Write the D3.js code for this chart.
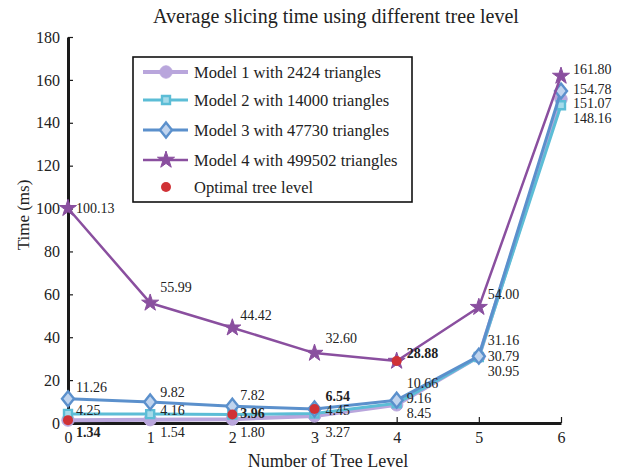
<!DOCTYPE html>
<html>
<head>
<meta charset="utf-8">
<script src="https://d3js.org/d3.v7.min.js"></script>
<style>
body { margin:0; background:#fff; }
text { font-family: "Liberation Serif", "DejaVu Serif", serif; fill:#222; }
.axis path, .axis line { stroke:#1a1a1a; }
</style>
</head>
<body>
<svg id="chart" width="628" height="472"></svg>
<script>

// data
var levels = [0, 1, 2, 3, 4, 5, 6];
var model1 = [1.34, 1.54, 1.80, 3.27, 8.45, 30.95, 151.07];
var model2 = [4.25, 4.16, 3.96, 4.45, 9.16, 30.79, 148.16];
var model3 = [11.26, 9.82, 7.82, 6.54, 10.66, 31.16, 154.78];
var model4 = [100.13, 55.99, 44.42, 32.60, 28.88, 54.00, 161.80];
var seriesNames = ["Model 1 with 2424 triangles", "Model 2 with 14000 triangles",
                   "Model 3 with 47730 triangles", "Model 4 with 499502 triangles"];
var optimalLevel = [0, 2, 3, 4];   // best tree level per model
var yTicks = [0, 20, 40, 60, 80, 100, 120, 140, 160, 180];

// a diamond a bit taller than wide, like the original marker
var diamond = {
  draw: function(ctx, size) {
    var w = Math.sqrt(size / 2.5), h = w * 1.25;
    ctx.moveTo(0, -h); ctx.lineTo(w, 0); ctx.lineTo(0, h); ctx.lineTo(-w, 0); ctx.closePath();
  }
};

// look
var colors = ["#b9a6dc", "#5cbdd6", "#5b90cc", "#8a4f9f"];
var fills  = ["#b9a6dc", "#a6dbea", "#c0d4ee", "#8a4f9f"];
var shapes = [d3.symbolCircle, d3.symbolSquare, diamond, d3.symbolStar];
var sizes  = [120, 64, 90, 90];
var widths = [4, 3, 3, 2.5];
// label nudges (px) from the point, per model per level
var labelDy = [
  [12, 12, 13, 16, 8, 14, 4],
  [-4, -4, -1, -3, -5, -1, 13],
  [-12, -10, -11, -13, -17, -16, -2],
  [0, -16, -13, -15, -8, -13, -7]
];
var labelDx = [8, 10, 8, 11, 10, 9, 12];

var series = [model1, model2, model3, model4];

var svg = d3.select("#chart");
var x = d3.scaleLinear().domain([0, 6]).range([68, 561]);
var y = d3.scaleLinear().domain([0, 180]).range([423, 37]);

svg.append("text")
    .attr("x", 336).attr("y", 23)
    .attr("text-anchor", "middle")
    .attr("font-size", 20)
    .text("Average slicing time using different tree level");

// axes
var xAxis = svg.append("g")
    .attr("class", "axis")
    .attr("transform", "translate(0," + y(0) + ")")
    .call(d3.axisBottom(x).tickValues(levels).tickFormat(d3.format("d"))
          .tickSizeInner(-6).tickSizeOuter(0).tickPadding(9));
xAxis.select(".domain").attr("stroke-width", 3);
xAxis.selectAll(".tick line").attr("stroke-width", 1.2);
xAxis.selectAll("text").attr("font-size", 16).attr("fill", "#222").attr("font-family", "Liberation Serif");

var yAxis = svg.append("g")
    .attr("class", "axis")
    .attr("transform", "translate(" + x(0) + ",0)")
    .call(d3.axisLeft(y).tickValues(yTicks)
          .tickSizeInner(-5).tickSizeOuter(0).tickPadding(8));
yAxis.select(".domain").attr("stroke-width", 3);
yAxis.selectAll(".tick line").attr("stroke-width", 1.2);
yAxis.selectAll("text").attr("font-size", 16).attr("fill", "#222").attr("font-family", "Liberation Serif");

svg.append("text")
    .attr("transform", "translate(29,215) rotate(-90)")
    .attr("text-anchor", "middle")
    .attr("font-size", 17)
    .text("Time (ms)");

svg.append("text")
    .attr("x", 328).attr("y", 467)
    .attr("text-anchor", "middle")
    .attr("font-size", 18)
    .text("Number of Tree Level");

// lines and markers
var line = d3.line()
    .x(function(d, i) { return x(levels[i]); })
    .y(function(d) { return y(d); });

series.forEach(function(vals, s) {
  svg.append("path")
      .datum(vals)
      .attr("fill", "none")
      .attr("stroke", colors[s])
      .attr("stroke-width", widths[s])
      .attr("stroke-linejoin", "round")
      .attr("d", line);

  svg.selectAll(".m" + s)
    .data(vals)
    .enter().append("path")
      .attr("class", "m" + s)
      .attr("transform", function(d, i) { return "translate(" + x(levels[i]) + "," + y(d) + ")"; })
      .attr("d", d3.symbol().type(shapes[s]).size(sizes[s]))
      .attr("fill", fills[s])
      .attr("stroke", colors[s])
      .attr("stroke-width", s == 0 || s == 3 ? 1 : 2.4);
});

// optimal points
series.forEach(function(vals, s) {
  var i = optimalLevel[s];
  svg.append("circle")
      .attr("cx", x(levels[i]))
      .attr("cy", y(vals[i]))
      .attr("r", 5)
      .attr("fill", "#d03236");
});

// value labels
series.forEach(function(vals, s) {
  svg.selectAll(".lb" + s)
    .data(vals)
    .enter().append("text")
      .attr("class", "lb" + s)
      .attr("x", function(d, i) { return x(levels[i]) + labelDx[i]; })
      .attr("y", function(d, i) { return y(d) + labelDy[s][i]; })
      .attr("dy", "0.35em")
      .attr("font-size", 14)
      .attr("font-weight", function(d, i) { return i == optimalLevel[s] ? "bold" : "normal"; })
      .text(function(d) { return d3.format(".2f")(d); });
});

// legend
var lg = svg.append("g");
lg.append("rect")
    .attr("x", 133).attr("y", 57)
    .attr("width", 279).attr("height", 145)
    .attr("fill", "#fff")
    .attr("stroke", "#111")
    .attr("stroke-width", 1.6);

var legendY = [72, 100, 130, 160];
seriesNames.forEach(function(name, s) {
  lg.append("line")
      .attr("x1", 143).attr("x2", 188)
      .attr("y1", legendY[s]).attr("y2", legendY[s])
      .attr("stroke", colors[s]).attr("stroke-width", widths[s]);
  lg.append("path")
      .attr("transform", "translate(166," + legendY[s] + ")")
      .attr("d", d3.symbol().type(shapes[s]).size(sizes[s]))
      .attr("fill", fills[s])
      .attr("stroke", colors[s])
      .attr("stroke-width", s == 0 || s == 3 ? 1 : 2.4);
  lg.append("text")
      .attr("x", 194).attr("y", legendY[s])
      .attr("dy", "0.35em")
      .attr("font-size", 16.5)
      .text(name);
});
lg.append("circle")
    .attr("cx", 166).attr("cy", 187).attr("r", 5)
    .attr("fill", "#d03236");
lg.append("text")
    .attr("x", 194).attr("y", 187)
    .attr("dy", "0.35em")
    .attr("font-size", 16.5)
    .text("Optimal tree level");

</script>
</body>
</html>
